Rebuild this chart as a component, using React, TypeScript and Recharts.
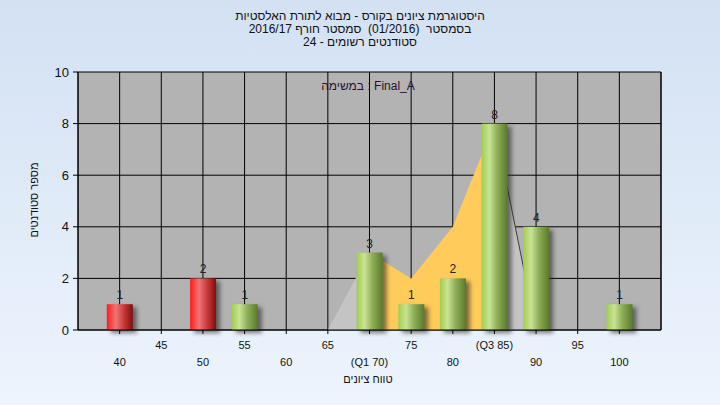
import React from 'react';
import {
  ComposedChart,
  Bar,
  Area,
  XAxis,
  YAxis,
  CartesianGrid,
  LabelList
} from 'recharts';

// ציונים (מרכזי הטווחים) ומספר הסטודנטים בכל טווח
const grades = [40, 45, 50, 55, 60, 65, 70, 75, 80, 85, 90, 95, 100];
const students = [1, 0, 2, 1, 0, 0, 3, 1, 2, 8, 4, 0, 1];
const gradeLabels = ['40', '45', '50', '55', '60', '65', '(Q1 70)', '75', '80', '(Q3 85)', '90', '95', '100'];

// שטח הרקע: מתחת ל-Q1, בין Q1 ל-Q3, ומעל Q3
const lowTail = [null, null, null, null, null, 0, 3, null, null, null, null, null, null];
const midRange = [null, null, null, null, null, null, 3, 2, 4, 8, null, null, null];
const highTail = [null, null, null, null, null, null, null, null, null, 8, 0, null, null];

const yTicks = [0, 2, 4, 6, 8, 10];

const titleLines = [
  'היסטוגרמת ציונים בקורס - מבוא לתורת האלסטיות',
  'בסמסטר  (01/2016)  סמסטר חורף 2016/17',
  'סטודנטים רשומים - 24'
];

const FONT = '"Liberation Sans", Arial, sans-serif';

const chartData = grades.map((g, i) => ({
  grade: g,
  students: students[i],
  lowTail: lowTail[i],
  midRange: midRange[i],
  highTail: highTail[i]
}));

const BarShape = (props: any) => {
  const { x, y, width, height, payload } = props;
  if (!height || height <= 0) return null;
  const grad = payload.grade < 55 ? 'url(#redGrad)' : 'url(#greenGrad)';
  return (
    <g>
      <rect x={x + 4} y={y + 3} width={width} height={height} fill="#2a2a2a" opacity={0.6} filter="url(#barShadow)" />
      <rect x={x} y={y} width={width} height={height} fill={grad} />
    </g>
  );
};

const XTick = (props: any) => {
  const { x, y, payload } = props;
  const idx = grades.indexOf(payload.value);
  if (idx < 0) return null;
  const topRow = idx % 2 === 1;
  return (
    <text x={x} y={y + (topRow ? 13 : 30)} textAnchor="middle" fontSize={11} fill="#111" fontFamily={FONT}>
      {gradeLabels[idx]}
    </text>
  );
};

const ValueLabel = (props: any) => {
  const { x, y, width, value } = props;
  if (!value) return null;
  return (
    <text x={x + width / 2} y={y - 5} textAnchor="middle" fontSize={12} fill="#222" fontFamily={FONT}>
      {value}
    </text>
  );
};

export default function App() {
  return (
    <div
      style={{
        position: 'fixed',
        left: 0,
        top: 0,
        width: 720,
        height: 405,
        background: 'linear-gradient(#d3e1f3, #edf4fd)',
        fontFamily: FONT
      }}
    >
      <div style={{ position: 'absolute', left: 0, top: 10, width: 720, textAlign: 'center', fontSize: 12, lineHeight: '13px', color: '#111' }}>
        {titleLines.map((t, i) => (
          <div key={i} dir="rtl" style={{ whiteSpace: 'pre' }}>{t}</div>
        ))}
      </div>

      <ComposedChart
        width={720}
        height={405}
        data={chartData}
        margin={{ top: 72, right: 19, bottom: 30, left: 38 }}
        style={{ position: 'absolute', left: 0, top: 0 }}
      >
        <defs>
          <linearGradient id="greenGrad" x1="0" y1="0" x2="1" y2="0">
            <stop offset="0%" stopColor="#a3cd4e" />
            <stop offset="30%" stopColor="#c8e395" />
            <stop offset="60%" stopColor="#8fae58" />
            <stop offset="100%" stopColor="#597a2a" />
          </linearGradient>
          <linearGradient id="redGrad" x1="0" y1="0" x2="1" y2="0">
            <stop offset="0%" stopColor="#ff1c1c" />
            <stop offset="35%" stopColor="#ee7474" />
            <stop offset="70%" stopColor="#c23232" />
            <stop offset="100%" stopColor="#7c0f0f" />
          </linearGradient>
          <filter id="barShadow" x="-30%" y="-30%" width="160%" height="160%">
            <feGaussianBlur stdDeviation="2" />
          </filter>
        </defs>

        <CartesianGrid yAxisId="left" stroke="#000" strokeOpacity={1} fill="#b3b3b3" fillOpacity={1} />

        <XAxis
          dataKey="grade"
          type="number"
          domain={[35, 105]}
          ticks={grades}
          interval={0}
          height={45}
          tickSize={4}
          axisLine={{ stroke: '#000' }}
          tickLine={{ stroke: '#000' }}
          tick={<XTick />}
        />
        <YAxis
          yAxisId="left"
          orientation="left"
          domain={[0, 10]}
          ticks={yTicks}
          width={40}
          tickSize={5}
          tickMargin={4}
          axisLine={{ stroke: '#000' }}
          tickLine={{ stroke: '#000' }}
          tick={{ fill: '#111', fontSize: 13, fontFamily: FONT }}
        />
        <YAxis
          yAxisId="right"
          orientation="right"
          domain={[0, 10]}
          ticks={yTicks}
          width={40}
          tickSize={6}
          tickMargin={2}
          axisLine={{ stroke: '#000' }}
          tickLine={{ stroke: '#000' }}
          tick={{ fill: '#111', fontSize: 13, fontFamily: FONT }}
        />

        <Area yAxisId="left" type="linear" dataKey="lowTail" fill="#c4c4c4" fillOpacity={1} stroke="none" isAnimationActive={false} />
        <Area yAxisId="left" type="linear" dataKey="midRange" fill="#ffcb5a" fillOpacity={1} stroke="none" isAnimationActive={false} />
        <Area yAxisId="left" type="linear" dataKey="highTail" fill="#c4c4c4" fillOpacity={1} stroke="#3a3a3a" strokeWidth={1} isAnimationActive={false} />

        <Bar yAxisId="left" dataKey="students" barSize={26} shape={<BarShape />} isAnimationActive={false}>
          <LabelList dataKey="students" content={<ValueLabel />} />
        </Bar>

        <text x={368} y={90} textAnchor="middle" fontSize={12} fill="#2a1030" fontFamily={FONT}>
          במשימה : Final_A
        </text>
      </ComposedChart>

      <div
        style={{
          position: 'absolute',
          left: 34,
          top: 200,
          transform: 'translate(-50%, -50%) rotate(-90deg)',
          fontSize: 11,
          whiteSpace: 'nowrap',
          color: '#111'
        }}
        dir="rtl"
      >
        מספר סטודנטים
      </div>
      <div style={{ position: 'absolute', left: 0, top: 373, width: 720, paddingLeft: 16, boxSizing: 'border-box', textAlign: 'center', fontSize: 11, color: '#111' }} dir="rtl">
        טווח ציונים
      </div>
    </div>
  );
}
